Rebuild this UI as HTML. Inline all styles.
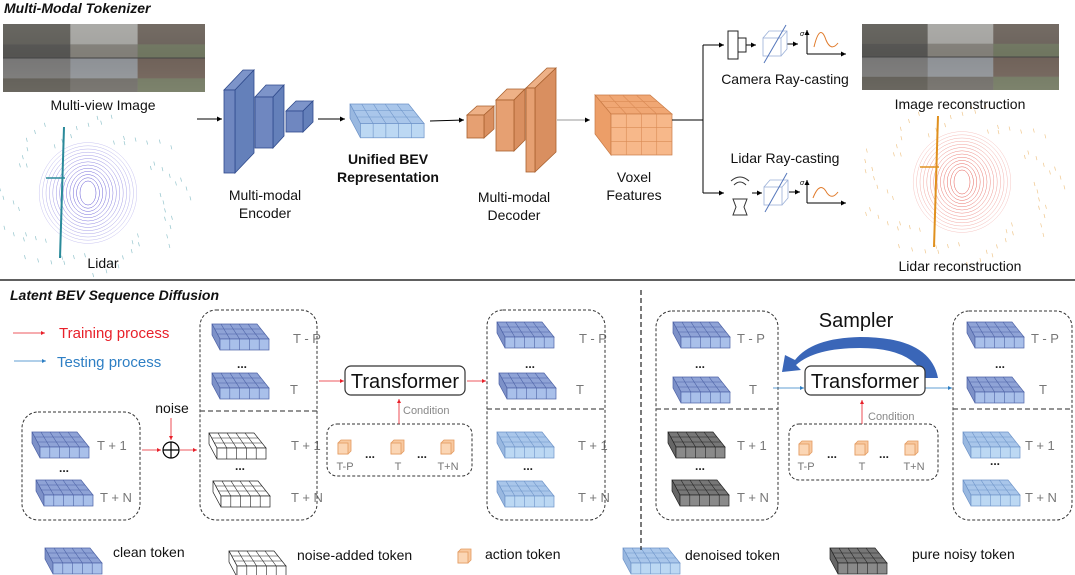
<!DOCTYPE html>
<html><head><meta charset="utf-8"><style>
html,body{margin:0;padding:0;background:#fff;}
svg{display:block;font-family:"Liberation Sans",Arial,sans-serif;}
</style></head><body>
<svg id="s" width="1075" height="575" viewBox="0 0 1075 575" xmlns="http://www.w3.org/2000/svg">
<defs>
<marker id="ak" markerWidth="6" markerHeight="6" refX="5" refY="3" orient="auto"><path d="M0,0.5 L5,3 L0,5.5z" fill="#000"/></marker>
<marker id="ar" markerWidth="6" markerHeight="6" refX="5" refY="3" orient="auto"><path d="M0,0.5 L5,3 L0,5.5z" fill="#e8202a"/></marker>
<marker id="ab" markerWidth="6" markerHeight="6" refX="5" refY="3" orient="auto"><path d="M0,0.5 L5,3 L0,5.5z" fill="#2e7fc4"/></marker>
<linearGradient id="sky" x1="0" y1="0" x2="0" y2="1"><stop offset="0" stop-color="#8a8985"/><stop offset="0.45" stop-color="#6d6b66"/><stop offset="1" stop-color="#9a978f"/></linearGradient>
</defs>
<g id="g"></g>
<text x="4" y="13" font-size="14" font-weight="bold" font-style="italic" fill="#111">Multi-Modal Tokenizer</text>
<text x="10" y="300" font-size="14" font-weight="bold" font-style="italic" fill="#111">Latent BEV Sequence Diffusion</text>
<line x1="0" y1="280" x2="1075" y2="280" stroke="#000" stroke-width="1.3"/>
<g font-size="14" fill="#111" text-anchor="middle">
<text x="103" y="110">Multi-view Image</text>
<text x="103" y="268">Lidar</text>
<text x="265" y="200">Multi-modal</text><text x="265" y="218">Encoder</text>
<text x="388" y="164" font-weight="bold">Unified BEV</text><text x="388" y="182" font-weight="bold">Representation</text>
<text x="514" y="202">Multi-modal</text><text x="514" y="220">Decoder</text>
<text x="634" y="182">Voxel</text><text x="634" y="200">Features</text>
<text x="785" y="84">Camera Ray-casting</text>
<text x="960" y="109">Image reconstruction</text>
<text x="785" y="163">Lidar Ray-casting</text>
<text x="960" y="271">Lidar reconstruction</text>
</g>
<g stroke="#000" stroke-width="1" fill="none">
<line x1="197" y1="119" x2="222" y2="119" marker-end="url(#ak)"/>
<line x1="318" y1="119" x2="345" y2="119" marker-end="url(#ak)"/>
<line x1="430" y1="121" x2="464" y2="120" marker-end="url(#ak)"/>
<line x1="557" y1="120" x2="590" y2="120" stroke="#999" marker-end="url(#ak)"/>
<polyline points="672,120 703,120"/>
<polyline points="703,45 703,193"/>
<line x1="703" y1="45" x2="724" y2="45" marker-end="url(#ak)"/>
<line x1="703" y1="193" x2="724" y2="193" marker-end="url(#ak)"/>
<line x1="746" y1="45" x2="756" y2="45" marker-end="url(#ak)"/>
<line x1="787" y1="44" x2="798" y2="44" marker-end="url(#ak)"/>
<line x1="752" y1="193" x2="762" y2="193" marker-end="url(#ak)"/>
<line x1="789" y1="192" x2="800" y2="192" marker-end="url(#ak)"/>
<rect x="728" y="31" width="10" height="28" stroke="#222"/>
<rect x="738" y="38" width="8" height="14" stroke="#222"/>
<path d="M733,199 L747,199 L744,207 L747,215 L733,215 L736,207z" stroke="#333"/>
<path d="M731,181 Q740,173 749,181 M734,185 Q740,179 746,185" stroke="#333"/>
<path d="M807,54 L846,54" stroke="#000" marker-end="url(#ak)"/>
<path d="M807,54 L807,30" stroke="#000" marker-end="url(#ak)"/>
<path d="M814,47 Q820,22 826,40 Q831,52 838,43" stroke="#e07a2a"/>
<path d="M807,203 L846,203" stroke="#000" marker-end="url(#ak)"/>
<path d="M807,203 L807,180" stroke="#000" marker-end="url(#ak)"/>
<path d="M813,198 Q820,180 827,193 Q832,200 838,192" stroke="#e07a2a"/>
<g stroke="#9bb0d8" stroke-width="0.8">
<rect x="763" y="38" width="18" height="18"/><path d="M763,38 L769,31 L787,31 L787,49 L781,56 M781,38 L787,31"/>
<rect x="764" y="187" width="18" height="18"/><path d="M764,187 L770,180 L788,180 L788,198 L782,205 M782,187 L788,180"/>
</g>
<line x1="764" y1="63" x2="786" y2="25" stroke="#5577bb"/>
<line x1="765" y1="212" x2="787" y2="173" stroke="#5577bb"/>
</g>
<text x="800" y="36" font-size="7" font-style="italic">σ</text>
<text x="800" y="185" font-size="7" font-style="italic">σ</text>
<g font-size="13" fill="#777">
<text x="293" y="343">T - P</text><text x="290" y="394">T</text><text x="291" y="450">T + 1</text><text x="291" y="502">T + N</text>
<text x="97" y="450">T + 1</text><text x="100" y="502">T + N</text>
<text x="579" y="343">T - P</text><text x="576" y="394">T</text><text x="578" y="450">T + 1</text><text x="578" y="502">T + N</text>
<text x="737" y="343">T - P</text><text x="749" y="394">T</text><text x="737" y="450">T + 1</text><text x="737" y="502">T + N</text>
<text x="1031" y="343">T - P</text><text x="1039" y="394">T</text><text x="1025" y="450">T + 1</text><text x="1025" y="502">T + N</text>
</g>
<g font-size="11" fill="#777" text-anchor="middle">
<text x="345" y="470">T-P</text><text x="398" y="470">T</text><text x="448" y="470">T+N</text>
<text x="806" y="470">T-P</text><text x="862" y="470">T</text><text x="914" y="470">T+N</text>
</g>
<g font-size="12" font-weight="bold" fill="#222" text-anchor="middle">
<text x="64" y="472">...</text><text x="242" y="368">...</text><text x="240" y="470">...</text>
<text x="370" y="458">...</text><text x="422" y="458">...</text>
<text x="530" y="368">...</text><text x="528" y="470">...</text>
<text x="700" y="368">...</text><text x="700" y="470">...</text>
<text x="832" y="458">...</text><text x="884" y="458">...</text>
<text x="1000" y="368">...</text><text x="995" y="465">...</text>
</g>
<line x1="13" y1="333" x2="45" y2="333" stroke="#e8202a" stroke-width="0.8" marker-end="url(#ar)"/>
<text x="59" y="338" font-size="15" fill="#e8202a">Training process</text>
<line x1="14" y1="361" x2="46" y2="361" stroke="#2e7fc4" stroke-width="0.8" marker-end="url(#ab)"/>
<text x="57" y="367" font-size="15" fill="#2e7fc4">Testing process</text>
<g fill="none" stroke="#333" stroke-width="1" stroke-dasharray="3,2">
<rect x="22" y="412" width="118" height="108" rx="16"/>
<rect x="200" y="310" width="117" height="210" rx="16"/>
<rect x="487" y="310" width="118" height="210" rx="16"/>
<rect x="656" y="311" width="122" height="209" rx="16"/>
<rect x="953" y="311" width="119" height="209" rx="16"/>
<rect x="327" y="424" width="145" height="52" rx="10"/>
<rect x="789" y="424" width="149" height="56" rx="10"/>
</g>
<g stroke="#555" stroke-width="1.3" stroke-dasharray="5,3">
<line x1="200" y1="411" x2="317" y2="411"/><line x1="487" y1="409" x2="605" y2="409"/>
<line x1="656" y1="409" x2="778" y2="409"/><line x1="953" y1="409" x2="1072" y2="409"/>
<line x1="641" y1="290" x2="641" y2="550" stroke="#333"/>
</g>
<text x="172" y="413" font-size="14" text-anchor="middle" fill="#111">noise</text>
<line x1="171" y1="418" x2="171" y2="440" stroke="#e8202a" stroke-width="0.8" marker-end="url(#ar)"/>
<circle cx="171" cy="450" r="8" fill="#fff" stroke="#000" stroke-width="1.2"/>
<path d="M163,450 L179,450 M171,442 L171,458" stroke="#000" stroke-width="1.2"/>
<g stroke="#e8202a" stroke-width="0.8" marker-end="url(#ar)">
<line x1="142" y1="450" x2="161" y2="450"/><line x1="180" y1="450" x2="197" y2="450"/>
<line x1="319" y1="381" x2="344" y2="381"/><line x1="467" y1="381" x2="486" y2="381"/>
<line x1="399" y1="424" x2="399" y2="399"/><line x1="862" y1="424" x2="862" y2="400"/>
</g>
<g stroke="#2e7fc4" stroke-width="0.8" marker-end="url(#ab)">
<line x1="773" y1="388" x2="804" y2="388"/><line x1="925" y1="388" x2="952" y2="388"/>
</g>
<path d="M938,378 Q930,337 860,337 Q812,338 795,360 L785,355 L782,372 L801,370 L796,365 Q815,348 860,348 Q913,348 925,378 Z" fill="#3a66b8"/>
<rect x="345" y="366" width="120" height="29" rx="6" fill="#fff" stroke="#333" stroke-width="1.2"/>
<text x="405" y="388" font-size="20" text-anchor="middle" fill="#111">Transformer</text>
<rect x="805" y="366" width="120" height="29" rx="6" fill="#fff" stroke="#333" stroke-width="1.2"/>
<text x="865" y="388" font-size="20" text-anchor="middle" fill="#111">Transformer</text>
<text x="403" y="414" font-size="11" fill="#888">Condition</text>
<text x="868" y="420" font-size="11" fill="#888">Condition</text>
<text x="856" y="327" font-size="20" text-anchor="middle" fill="#111">Sampler</text>
<g font-size="14" fill="#111">
<text x="113" y="557">clean token</text>
<text x="297" y="560">noise-added token</text>
<text x="485" y="559">action token</text>
<text x="685" y="560">denoised token</text>
<text x="912" y="559">pure noisy token</text>
</g>
</svg>
<script>
var NS="http://www.w3.org/2000/svg",G=document.getElementById('g');
function el(t,a){var e=document.createElementNS(NS,t);for(var k in a)e.setAttribute(k,a[k]);G.appendChild(e);return e;}
var T={c:['#8fa3d6','#a9c0ea','#7d91c8','#4d62a6'],d:['#a9c6ea','#bcd8f3','#99b8e0','#6d93c8'],n:['#fff','#fff','#fff','#222'],p:['#777','#8a8a8a','#666','#222']};
function tok(x,y,t,s){s=s||1;var c=T[t];
function P(a){return a.map(function(p){return (x+p[0]*s)+','+(y+p[1]*s)}).join(' ');}
el('polygon',{points:P([[0,0],[45,0],[57,15],[8,15]]),fill:c[0],stroke:c[3],'stroke-width':0.7});
el('polygon',{points:P([[0,0],[8,15],[8,26],[0,11]]),fill:c[2],stroke:c[3],'stroke-width':0.7});
el('rect',{x:x+8*s,y:y+15*s,width:49*s,height:11*s,fill:c[1],stroke:c[3],'stroke-width':0.7});
for(var i=1;i<5;i++){var f=i/5;el('line',{x1:x+(8+49*f)*s,y1:y+15*s,x2:x+(8+49*f)*s,y2:y+26*s,stroke:c[3],'stroke-width':0.6});
el('line',{x1:x+(45*f)*s,y1:y,x2:x+(8+49*f)*s,y2:y+15*s,stroke:c[3],'stroke-width':0.6});}
for(var j=1;j<3;j++){var g=j/3;el('line',{x1:x+8*g*s,y1:y+15*g*s,x2:x+(45+12*g)*s,y2:y+15*g*s,stroke:c[3],'stroke-width':0.6});}}
function act(x,y){el('polygon',{points:(x)+','+(y+3)+' '+(x+3)+','+y+' '+(x+13)+','+y+' '+(x+13)+','+(y+11)+' '+(x+10)+','+(y+14)+' '+x+','+(y+14),fill:'#f8c9a0',stroke:'#e39a60','stroke-width':0.8});
el('rect',{x:x,y:y+3,width:10,height:11,fill:'#fbd6b5',stroke:'#e39a60','stroke-width':0.8});}
function photo(x,y,w,h){el('rect',{x:x,y:y,width:w,height:h,fill:'url(#sky)'});
for(var i=0;i<3;i++){var xx=x+i*w/3;
el('rect',{x:xx,y:y,width:w/3,height:h*0.3,fill:['#5a5853','#b9b9b6','#6b5f57'][i],opacity:0.7});
el('rect',{x:xx,y:y+h*0.3,width:w/3,height:h*0.2,fill:['#4a4a48','#8a8780','#707a5e'][i],opacity:0.7});
el('rect',{x:xx,y:y+h*0.5,width:w/3,height:h*0.3,fill:['#7a7b7c','#9aa0a8','#6f5c52'][i],opacity:0.7});
el('rect',{x:xx,y:y+h*0.8,width:w/3,height:h*0.2,fill:['#55524c','#6e6b66','#707a5e'][i],opacity:0.7});}
el('line',{x1:x,y1:y+h/2,x2:x+w,y2:y+h/2,stroke:'#444','stroke-width':1});}
photo(3,24,202,68);photo(862,24,197,66);
function lidar(cx,cy,col,col2){for(var i=0;i<13;i++){el('ellipse',{cx:cx,cy:cy,rx:8+i*3.4,ry:12+i*3.2,fill:'none',stroke:col,'stroke-width':0.5,opacity:0.9-i*0.05});}
el('ellipse',{cx:cx,cy:cy,rx:7,ry:11,fill:'#fff'});
el('line',{x1:cx-24,y1:cy-66,x2:cx-28,y2:cy+65,stroke:col2,'stroke-width':2});
el('line',{x1:cx-42,y1:cy-15,x2:cx-23,y2:cy-15,stroke:col2,'stroke-width':1.5});
for(var k=0;k<70;k++){var a=(k*137.5)%360*Math.PI/180,r=60+(k*13)%30;el('line',{x1:cx+Math.cos(a)*r*1.2,y1:cy+Math.sin(a)*r*0.9,x2:cx+Math.cos(a)*r*1.2+1,y2:cy+Math.sin(a)*r*0.9+4,stroke:col2,'stroke-width':0.7,opacity:0.5});}}
lidar(88,193,'#4b3ecf','#2a8a9a');lidar(962,182,'#e2443a','#e0901e');
function slab(x1,y1,x2,y2,dx,dy,f,s,t,st){el('polygon',{points:x1+','+y1+' '+(x1+dx)+','+(y1+dy)+' '+(x2+dx)+','+(y1+dy)+' '+x2+','+y1,fill:t,stroke:st,'stroke-width':0.8});
el('polygon',{points:x2+','+y1+' '+(x2+dx)+','+(y1+dy)+' '+(x2+dx)+','+(y2+dy)+' '+x2+','+y2,fill:s,stroke:st,'stroke-width':0.8});
el('rect',{x:x1,y:y1,width:x2-x1,height:y2-y1,fill:f,stroke:st,'stroke-width':0.8});}
var B=['#6f87c0','#6480ba','#7d94c9','#2f4a8c'],O=['#e6a072','#d98f60','#eeb187','#a8602e'];
slab(224,90,235,173,19,-20,B[0],B[1],B[2],B[3]);
slab(255,97,273,148,11,-12,B[0],B[1],B[2],B[3]);
slab(286,111,303,132,10,-10,B[0],B[1],B[2],B[3]);
slab(467,115,484,138,10,-9,O[0],O[1],O[2],O[3]);
slab(496,100,514,151,11,-11,O[0],O[1],O[2],O[3]);
slab(526,88,535,172,21,-20,O[0],O[1],O[2],O[3]);
el('polygon',{points:'595,95 650,95 672,114 611,114',fill:'#f0a774',stroke:'#c87a45','stroke-width':0.7});
el('polygon',{points:'595,95 611,114 611,155 595,134',fill:'#ec9e68',stroke:'#c87a45','stroke-width':0.7});
el('rect',{x:611,y:114,width:61,height:41,fill:'#f7b88a',stroke:'#c87a45','stroke-width':0.7});
for(var i=1;i<4;i++){el('line',{x1:611+61*i/4,y1:114,x2:611+61*i/4,y2:155,stroke:'#d98a55','stroke-width':0.6});el('line',{x1:595+55*i/4,y1:95,x2:611+61*i/4,y2:114,stroke:'#d98a55','stroke-width':0.6});}
for(var j=1;j<3;j++){el('line',{x1:611,y1:114+41*j/3,x2:672,y2:114+41*j/3,stroke:'#d98a55','stroke-width':0.6});el('line',{x1:595+16*j/3,y1:95+19*j/3,x2:650+22*j/3,y2:95+19*j/3,stroke:'#d98a55','stroke-width':0.6});}
tok(350,104,'d',1.3);
tok(32,432,'c');tok(36,480,'c');
tok(212,324,'c');tok(212,373,'c');tok(209,433,'n');tok(213,481,'n');
tok(497,322,'c');tok(499,373,'c');tok(497,432,'d');tok(497,481,'d');
tok(673,322,'c');tok(673,377,'c');tok(668,432,'p');tok(672,480,'p');
tok(967,322,'c');tok(967,377,'c');tok(963,432,'d');tok(963,480,'d');
tok(45,548,'c');tok(229,551,'n');tok(623,548,'d');tok(830,548,'p');
act(338,440);act(391,440);act(441,440);act(799,441);act(855,441);act(905,441);act(458,549);
</script>
</body></html>
